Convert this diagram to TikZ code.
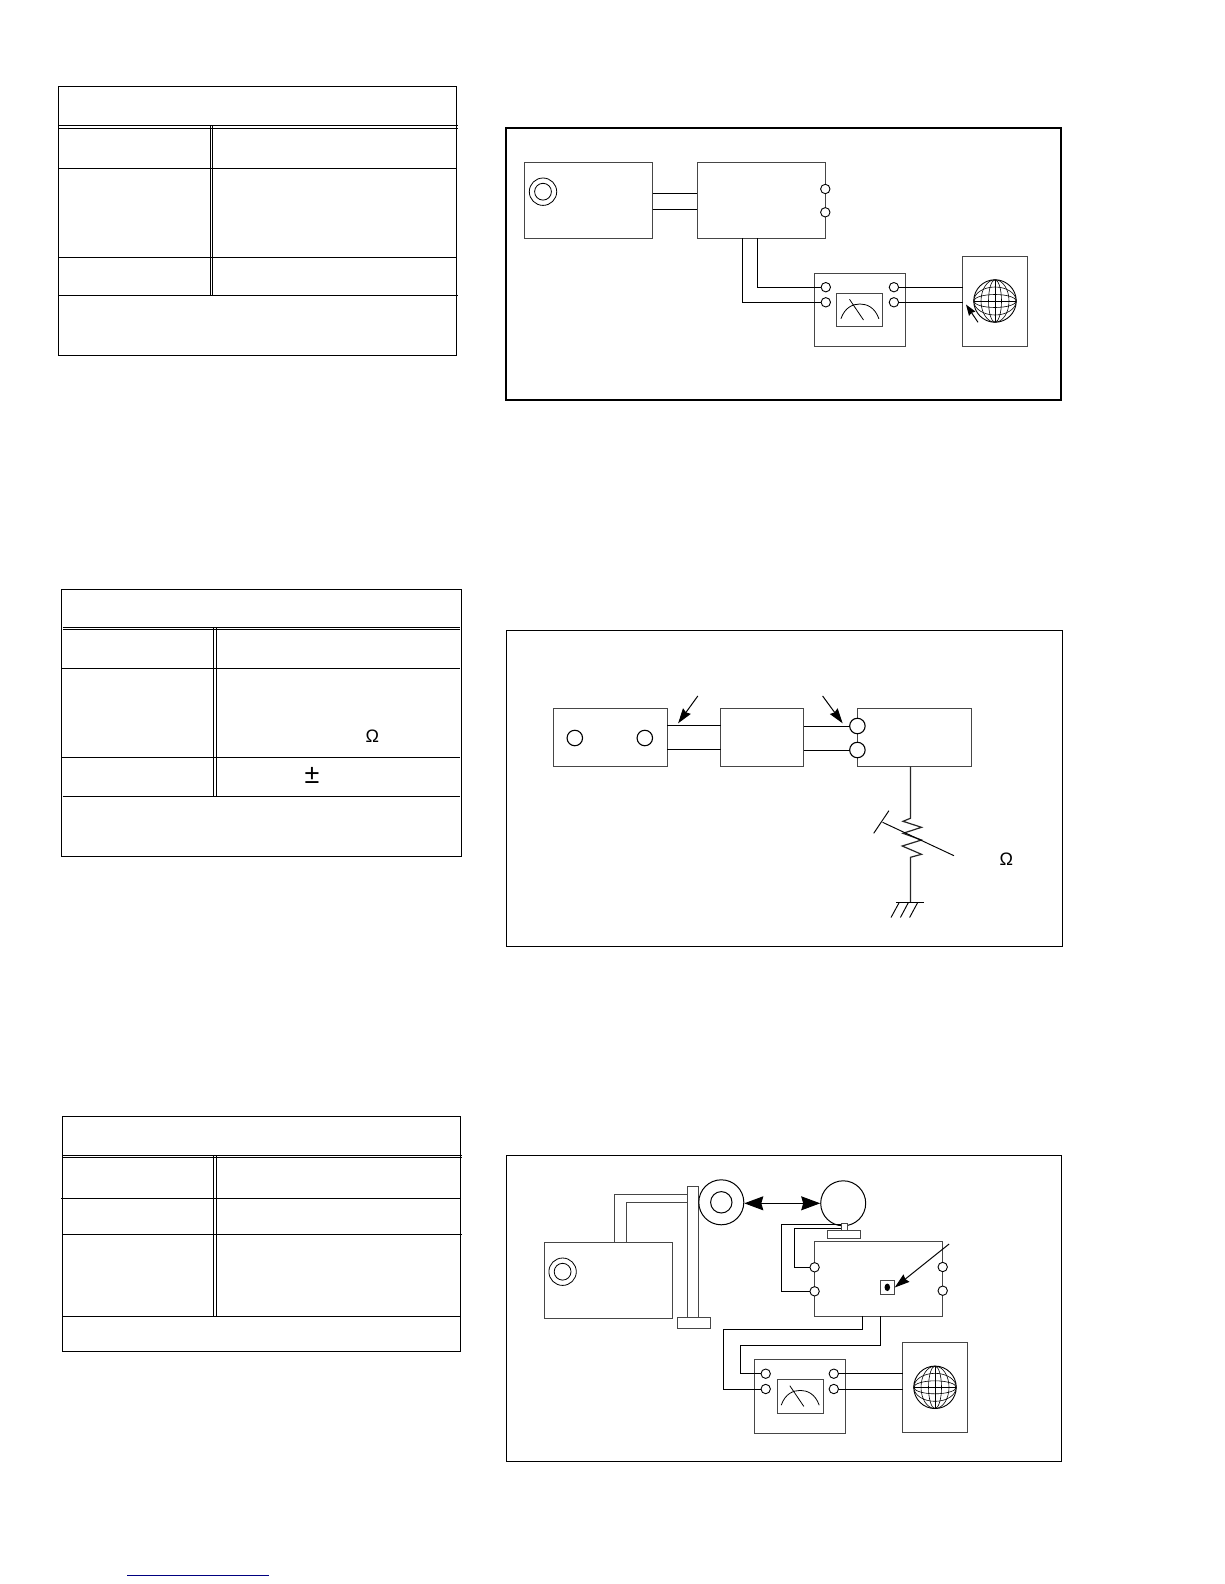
\documentclass[tikz,border=0pt]{standalone}
\usepackage{fontspec}
\setmainfont{Liberation Sans}
\usetikzlibrary{arrows.meta,shapes.geometric}
\definecolor{linkblue}{RGB}{0,0,128}
\definecolor{boxgray}{RGB}{70,70,70}
\tikzset{
  rule/.style={line width=1.2pt,black},
  framethick/.style={line width=2pt,black},
  framethin/.style={line width=1pt,black},
  boxst/.style={draw=boxgray,line width=1pt,fill=white,inner sep=0pt,outer sep=0pt,rectangle},
  term/.style={draw=black,line width=0.9pt,fill=white,circle,inner sep=0pt,outer sep=0pt,minimum size=9.4pt},
  bigterm/.style={term,minimum size=15.5pt,line width=1.1pt},
  wire/.style={line width=0.95pt,black},
  greywire/.style={line width=0.95pt,boxgray},
  zigwire/.style={line width=1.2pt,black!85},
  pointer/.style={line width=1pt,black,-{Stealth[length=15pt,width=9.5pt,inset=1.5pt]}},
  smallpointer/.style={line width=1pt,black,-{Stealth[length=11pt,width=7.5pt,inset=1pt]}},
  twoway/.style={line width=1pt,black,{Stealth[length=19pt,width=14pt,inset=2pt]}-{Stealth[length=19pt,width=14pt,inset=2pt]}},
  symbol/.style={inner sep=0pt,font=\fontsize{18}{18}\selectfont},
  bigsymbol/.style={inner sep=0pt,font=\fontsize{27}{27}\selectfont},
  thinline/.style={line width=0.8pt,black},
  gridline/.style={line width=0.6pt,black},
}
\newcommand{\boxnode}[5]{%
  \pgfmathsetmacro{\bw}{#4-#2}\pgfmathsetmacro{\bh}{#5-#3}%
  \node[boxst,anchor=north west,minimum width=\bw pt,minimum height=\bh pt] (#1) at (#2,#3) {};}
\newcommand{\rings}[3]{% name x y
  \node[draw=black,line width=0.8pt,circle,inner sep=0pt,minimum size=27.4pt] (#1) at (#2,#3) {};
  \node[draw=black,line width=0.8pt,circle,inner sep=0pt,minimum size=16.8pt] (#1in) at (#2,#3) {};}
\newcommand{\globe}[3]{% name x y
  \node[circle,draw=black,line width=0.9pt,inner sep=0pt,minimum size=42.5pt] (#1) at (#2,#3) {};
  \begin{scope}[shift={(#2,#3)}]
    \draw[gridline] (0,-21.2) -- (0,21.2) (-21.2,0) -- (21.2,0);
    \foreach \q in {6.5,14} {
      \draw[gridline] (0,0) circle [x radius=\q,y radius=21.2];
      \draw[gridline] (0,0) circle [x radius=21.2,y radius=\q];
    }
  \end{scope}}
\newcommand{\meterface}[3]{% name x y (north-west corner)
  \boxnode{#1}{#2}{#3}{#2+45.9}{#3+33.4}
  \begin{scope}[shift={(#2,#3)}]
    \draw[thinline] (4,25.5) .. controls (8,14) and (16,10.7) .. (23,10.7) .. controls (30,10.7) and (38,14) .. (42,25.5);
    \draw[thinline] (12.6,6) -- (26.6,26.7);
  \end{scope}}
\begin{document}
\begin{tikzpicture}[x=1pt,y=-1pt]
\useasboundingbox (0,0) rectangle (1224,1584);
\fill[white] (0,0) rectangle (1224,1584);

% ---------- Table 1
\coordinate (t1nw) at (58.3,86.3);
\coordinate (t1se) at (456.7,355.3);
\draw[rule] (t1nw) rectangle (t1se);
\draw[rule] (58.3,125.3) -- (458,125.3) (58.3,128.3) -- (458,128.3);
\draw[rule] (58.3,168.3) -- (456.7,168.3) (58.3,257.3) -- (456.7,257.3) (58.3,295.3) -- (458,295.3);
\draw[rule] (210.3,125.3) -- (210.3,295.3) (212.8,125.3) -- (212.8,295.3);

% ---------- Table 2
\coordinate (t2nw) at (61.3,589.3);
\coordinate (t2se) at (461.7,856.3);
\draw[rule] (t2nw) rectangle (t2se);
\draw[rule] (62.7,627.7) -- (460,627.7) (62.7,629.7) -- (460,629.7);
\draw[rule] (61.3,668.3) -- (460,668.3) (61.3,757.3) -- (460,757.3) (62.7,796.3) -- (460,796.3);
\draw[rule] (213.7,627.7) -- (213.7,796.3) (216.4,627.7) -- (216.4,796.3);
\node[symbol] (t2ohm) at (372.3,736.7) {Ω};
\node[bigsymbol] (t2pm) at (312,775) {±};

% ---------- Table 3
\coordinate (t3nw) at (62.3,1116.3);
\coordinate (t3se) at (460.7,1351.6);
\draw[rule] (t3nw) rectangle (t3se);
\draw[rule] (62.3,1155.7) -- (462,1155.7) (62.3,1157.6) -- (462,1157.6);
\draw[rule] (61,1198.3) -- (460.7,1198.3) (62.3,1234.3) -- (462,1234.3) (62.3,1316.3) -- (460.7,1316.3);
\draw[rule] (213.7,1155.7) -- (213.7,1316.3) (216.4,1155.7) -- (216.4,1316.3);

% ---------- Diagram 1
\coordinate (f1nw) at (506.3,128.5);
\coordinate (f1se) at (1060.8,399.5);
\draw[framethick] (f1nw) rectangle (f1se);
\boxnode{oneGen}{524.4}{162.3}{652.6}{238}
\boxnode{oneAmp}{697}{162.3}{825.3}{238}
\rings{oneKnob}{543}{191.7}
\node[term] (oneOutA) at (825.3,189) {};
\node[term] (oneOutB) at (825.3,212.3) {};
\coordinate (oneW1) at (652.6,193.3);
\coordinate (oneW2) at (652.6,209.3);
\draw[wire] (oneW1) -- (oneW1 -| oneAmp.west);
\draw[wire] (oneW2) -- (oneW2 -| oneAmp.west);
\boxnode{oneMeter}{814.3}{273.3}{905.4}{346.7}
\node[term] (oneInA) at (825.8,287.2) {};
\node[term] (oneInB) at (825.8,302.3) {};
\node[term] (oneMoutA) at (893.9,287.2) {};
\node[term] (oneMoutB) at (893.9,302.3) {};
\meterface{oneFace}{836.9}{293.3}
\coordinate (oneS1) at (757.5,238);
\coordinate (oneS2) at (742.7,238);
\draw[wire] (oneS1) |- (oneInA);
\draw[wire] (oneS2) |- (oneInB);
\boxnode{oneScope}{962.5}{256}{1027.6}{346.3}
\globe{oneGlobe}{995}{301}
\draw[wire] (oneMoutA) -- (oneMoutA -| oneScope.west);
\draw[wire] (oneMoutB) -- (oneMoutB -| oneScope.west);
\coordinate (onePtrFrom) at (978,322.3);
\coordinate (onePtrTo) at (966,304.5);
\draw[smallpointer] (onePtrFrom) -- (onePtrTo);

% ---------- Diagram 2
\coordinate (f2nw) at (506.3,630.3);
\coordinate (f2se) at (1062.6,946.7);
\draw[framethin] (f2nw) rectangle (f2se);
\boxnode{twoA}{553}{708.7}{667}{766.7}
\boxnode{twoB}{720.7}{708.7}{803.7}{766.7}
\boxnode{twoC}{857}{708.7}{971}{766.7}
\node[bigterm] (twoHoleA) at (574.8,738) {};
\node[bigterm] (twoHoleB) at (644.8,738) {};
\node[bigterm] (twoInA) at (857.4,726) {};
\node[bigterm] (twoInB) at (857.4,750) {};
\coordinate (twoY1) at (667,725.7);
\coordinate (twoY2) at (667,749.7);
\draw[wire] (twoY1) -- (twoY1 -| twoB.west);
\draw[wire] (twoY2) -- (twoY2 -| twoB.west);
\draw[wire] (twoInA) -- (twoInA -| twoB.east);
\draw[wire] (twoInB) -- (twoInB -| twoB.east);
\coordinate (twoPtrAfrom) at (697.8,696);
\coordinate (twoPtrAto) at (678.1,723.3);
\coordinate (twoPtrBfrom) at (822.6,696);
\coordinate (twoPtrBto) at (842.6,723.3);
\draw[pointer] (twoPtrAfrom) -- (twoPtrAto);
\draw[pointer] (twoPtrBfrom) -- (twoPtrBto);
\coordinate (twoRtop) at (910.4,766.7);
\coordinate (twoGnd) at (910.4,902.3);
\draw[zigwire] (twoRtop) -- (910.4,818.3) -- (903,821.3) -- (921.5,827.3) -- (903,833.3) -- (921.5,840) -- (902.2,846) -- (921.5,854.3) -- (910.4,857.3) -- (twoGnd);
\draw[wire] (882.6,822.3) -- (954,855.7);
\draw[wire] (888.9,810.7) -- (873.7,833.3);
\draw[wire] (896.3,902.3) -- (924,902.3);
\draw[wire] (899.3,902.3) -- (891,917.5) (908.5,902.3) -- (900.4,917.5) (917.8,902.3) -- (909.6,917.5);
\node[symbol] (twoOhm) at (1006.3,859.3) {Ω};

% ---------- Diagram 3
\coordinate (f3nw) at (506.3,1155.3);
\coordinate (f3se) at (1061.5,1461.3);
\draw[framethin] (f3nw) rectangle (f3se);
\boxnode{thrGen}{544.4}{1242.7}{672.6}{1318}
\rings{thrKnob}{562.6}{1271.7}
\boxnode{thrPost}{687.8}{1186.3}{698.9}{1317.7}
\boxnode{thrFoot}{677.8}{1317.7}{710.4}{1328.3}
\coordinate (thrG1) at (614.8,1242.7);
\coordinate (thrG2) at (626,1242.7);
\coordinate (thrP1) at (687.8,1194.3);
\coordinate (thrP2) at (687.8,1202);
\draw[greywire] (thrG1) |- (thrP1);
\draw[greywire] (thrG2) |- (thrP2);
\node[circle,draw=black,line width=1pt,inner sep=0pt,minimum size=45pt] (thrSpk) at (721.3,1202.3) {};
\node[circle,draw=black,line width=1pt,inner sep=0pt,minimum size=21.4pt] (thrCone) at (721.3,1202.3) {};
\node[circle,draw=black,line width=1pt,inner sep=0pt,minimum size=45pt] (thrMic) at (843.2,1203.3) {};
\draw[twoway] (thrSpk.east |- thrMic.west) -- (thrMic.west);
\boxnode{thrStem}{841.3}{1223.8}{847.3}{1230}
\boxnode{thrBase}{827.6}{1230}{860.2}{1238.7}
\boxnode{thrAmp}{814.6}{1241.3}{942.7}{1316.3}
\node[term] (thrLA) at (814.6,1267.3) {};
\node[term] (thrLB) at (814.6,1291.3) {};
\node[term] (thrRA) at (942.7,1267) {};
\node[term] (thrRB) at (942.7,1290.7) {};
\coordinate (thrM1) at (841.3,1224.6);
\coordinate (thrM2) at (841.3,1228.3);
\draw[wire] (thrM1) -- (781.7,1224.6) |- (thrLB);
\draw[wire] (thrM2) -- (794.7,1228.3) |- (thrLA);
\boxnode{thrSq}{880.6}{1280.3}{894.7}{1294.7}
\node[ellipse,fill=black,inner sep=0pt,minimum width=5.5pt,minimum height=7.5pt] (thrDot) at (887.3,1287.3) {};
\coordinate (thrPtrFrom) at (949.1,1244);
\draw[pointer] (thrPtrFrom) -- (thrSq.east);
\boxnode{thrMeter}{754.6}{1359.3}{845.3}{1433.3}
\node[term] (thrInA) at (765.7,1373.7) {};
\node[term] (thrInB) at (765.7,1389) {};
\node[term] (thrOutA) at (833.8,1373.7) {};
\node[term] (thrOutB) at (833.8,1389) {};
\meterface{thrFace}{777.2}{1379.7}
\coordinate (thrB1) at (862.5,1316.3);
\coordinate (thrB2) at (880.2,1316.3);
\draw[wire] (thrB1) -- (862.5,1329.3) -- (723.6,1329.3) |- (thrInB);
\draw[wire] (thrB2) -- (880.2,1345.3) -- (740.6,1345.3) |- (thrInA);
\boxnode{thrScope}{902.7}{1342.7}{967.5}{1432.7}
\globe{thrGlobe}{935}{1387.3}
\draw[wire] (thrOutA) -- (thrOutA -| thrScope.west);
\draw[wire] (thrOutB) -- (thrOutB -| thrScope.west);

% ---------- blue rule
\coordinate (blueA) at (127,1575.3);
\coordinate (blueB) at (268.7,1575.3);
\draw[line width=1.2pt,linkblue] (blueA) -- (blueB);
\end{tikzpicture}
\end{document}
